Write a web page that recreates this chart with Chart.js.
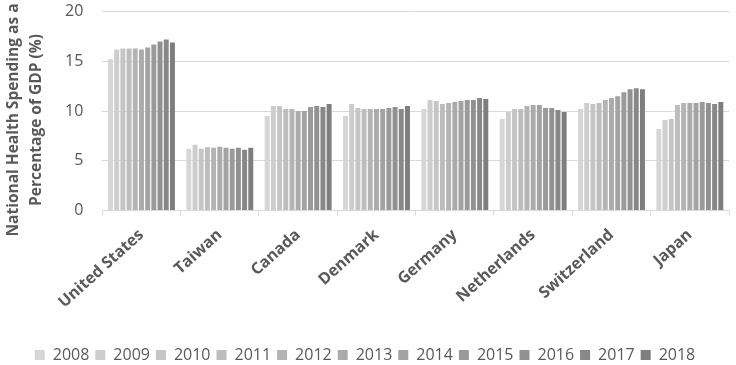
<!DOCTYPE html>
<html>
<head>
<meta charset="utf-8">
<script src="https://cdn.jsdelivr.net/npm/chart.js@4"></script>
<style>
  html, body { margin: 0; padding: 0; background: #fff; }
  #wrap { width: 736px; height: 365px; }
</style>
</head>
<body>
<div id="wrap"><canvas id="myChart" width="736" height="365"></canvas></div>
<script>
var countries = ['United States', 'Taiwan', 'Canada', 'Denmark', 'Germany', 'Netherlands', 'Switzerland', 'Japan'];
var years = ['2008', '2009', '2010', '2011', '2012', '2013', '2014', '2015', '2016', '2017', '2018'];

// one array per country, 2008..2018
var unitedStates = [15.2, 16.2, 16.3, 16.3, 16.3, 16.2, 16.4, 16.7, 17.0, 17.2, 16.9];
var taiwan       = [6.2, 6.6, 6.2, 6.35, 6.3, 6.4, 6.3, 6.2, 6.3, 6.1, 6.3];
var canada       = [9.5, 10.5, 10.5, 10.2, 10.2, 10.0, 10.0, 10.4, 10.5, 10.4, 10.7];
var denmark      = [9.5, 10.7, 10.3, 10.2, 10.2, 10.2, 10.2, 10.3, 10.4, 10.2, 10.5];
var germany      = [10.2, 11.1, 11.0, 10.7, 10.8, 10.9, 11.0, 11.1, 11.1, 11.3, 11.2];
var netherlands  = [9.2, 9.9, 10.2, 10.2, 10.5, 10.6, 10.6, 10.3, 10.3, 10.1, 9.9];
var switzerland  = [10.2, 10.8, 10.7, 10.8, 11.1, 11.3, 11.5, 11.9, 12.2, 12.3, 12.2];
var japan        = [8.2, 9.1, 9.2, 10.6, 10.8, 10.8, 10.8, 10.9, 10.8, 10.7, 10.9];

var yTicks = [0, 5, 10, 15, 20];
var yTitle = ['National Health Spending as a', 'Percentage of GDP (%)'];

var byCountry = [unitedStates, taiwan, canada, denmark, germany, netherlands, switzerland, japan];
var palette = ['#d6d6d6', '#cdcdcd', '#c5c5c5', '#bdbdbd', '#b4b4b4', '#ababab', '#a3a3a3', '#9a9a9a', '#919191', '#888888', '#7e7e7e'];

var datasets = years.map(function (yr, i) {
  return {
    label: yr,
    data: byCountry.map(function (arr) { return arr[i]; }),
    backgroundColor: palette[i],
    borderWidth: 0,
    barPercentage: 0.8,
    categoryPercentage: 0.87
  };
});

// y title drawn by hand: it sits a bit lower than the plot centre in the original
var yTitlePlugin = {
  id: 'yTitle',
  afterDraw: function (chart) {
    var c = chart.ctx;
    c.save();
    c.fillStyle = '#595959';
    c.font = 'bold 15.5px "Open Sans"';
    c.textAlign = 'center';
    c.textBaseline = 'middle';
    c.translate(0, 120);
    c.rotate(-Math.PI / 2);
    c.fillText(yTitle[0], 0, 14);
    c.fillText(yTitle[1], 0, 37);
    c.restore();
  }
};

var ctx = document.getElementById('myChart');
var myChart = new Chart(ctx, {
  type: 'bar',
  data: { labels: countries, datasets: datasets },
  plugins: [yTitlePlugin],
  options: {
    responsive: false,
    animation: false,
    layout: { padding: { top: 0, right: 7, left: 1, bottom: -8 } },
    plugins: {
      tooltip: { enabled: false },
      legend: {
        position: 'bottom',
        labels: {
          boxWidth: 10,
          boxHeight: 10,
          padding: 6,
          color: '#595959',
          font: { family: 'Open Sans', size: 16 }
        }
      }
    },
    scales: {
      y: {
        min: 0,
        max: 20,
        afterBuildTicks: function (axis) {
          axis.ticks = yTicks.map(function (v) { return { value: v }; });
        },
        // room for the hand-drawn title
        afterFit: function (scale) { scale.width += 62; },
        border: { display: false },
        // invisible tick marks give the gap between labels and plot
        grid: { color: '#d9d9d9', lineWidth: 1, drawTicks: true, tickLength: 17, tickColor: 'rgba(0,0,0,0)' },
        ticks: {
          color: '#595959',
          padding: 2,
          font: { family: 'Open Sans', size: 16 }
        }
      },
      x: {
        afterFit: function (scale) { scale.height += 19; },
        border: { display: true, color: '#d9d9d9' },
        grid: { display: true, drawOnChartArea: false, color: '#d9d9d9', tickLength: 5 },
        ticks: {
          color: '#595959',
          minRotation: 42,
          maxRotation: 42,
          padding: 10,
          font: { family: 'Open Sans', size: 16, weight: 'bold' }
        }
      }
    }
  }
});
</script>
</body>
</html>
